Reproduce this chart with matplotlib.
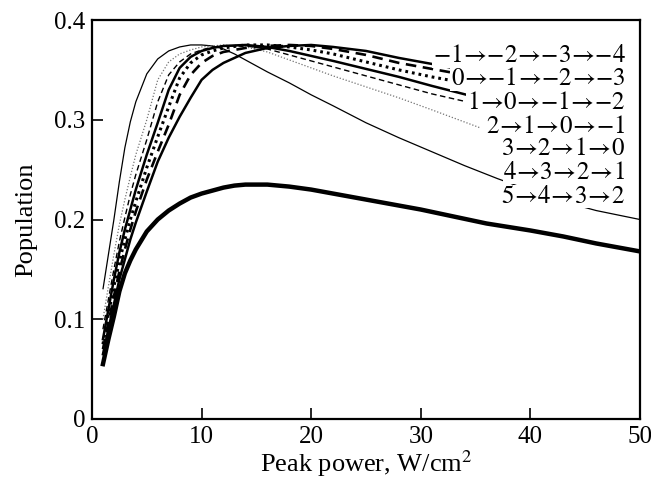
import matplotlib
matplotlib.use("Agg")
import matplotlib.pyplot as plt

plt.rcParams["font.family"] = ["Liberation Serif", "DejaVu Serif"]
plt.rcParams["mathtext.fontset"] = "stix"

# upper family of curves (x grid shared by curves B..G up to their end)
x_up = [1, 1.5, 2, 2.5, 3, 3.5, 4, 5, 6, 7, 8, 9, 10, 11, 12, 14, 16, 18, 20, 22, 25, 28, 31]

# A: thin solid, fastest rise, continues to x = 50
x_a = [1, 1.5, 2, 2.5, 3, 3.5, 4, 5, 6, 7, 8, 9, 10, 11, 12, 13, 14, 16, 18, 20, 22, 25,
       28, 31, 34, 37, 40, 43, 46, 50]
y_a = [0.13, 0.165, 0.2, 0.238, 0.272, 0.298, 0.318, 0.346, 0.361, 0.369, 0.373, 0.375,
       0.375, 0.374, 0.371, 0.366, 0.36, 0.348, 0.337, 0.325, 0.314, 0.297, 0.282, 0.268,
       0.254, 0.241, 0.229, 0.218, 0.209, 0.2]

y_b = [0.1, 0.133, 0.165, 0.195, 0.22, 0.243, 0.265, 0.3, 0.34, 0.358, 0.366, 0.37, 0.373,
       0.374, 0.375, 0.373, 0.368, 0.36, 0.352, 0.344, 0.333, 0.322, 0.31]
y_c = [0.09, 0.12, 0.15, 0.178, 0.202, 0.225, 0.245, 0.28, 0.318, 0.345, 0.358, 0.366, 0.37,
       0.373, 0.374, 0.374, 0.371, 0.365, 0.359, 0.353, 0.344, 0.335, 0.326]
y_d = [0.08, 0.11, 0.14, 0.167, 0.19, 0.21, 0.23, 0.265, 0.297, 0.33, 0.352, 0.363, 0.369,
       0.372, 0.374, 0.375, 0.373, 0.369, 0.364, 0.359, 0.351, 0.343, 0.334]
y_e = [0.075, 0.105, 0.133, 0.158, 0.18, 0.2, 0.218, 0.252, 0.283, 0.313, 0.342, 0.357,
       0.365, 0.369, 0.372, 0.375, 0.375, 0.373, 0.37, 0.366, 0.358, 0.35, 0.343]
y_f = [0.07, 0.097, 0.123, 0.148, 0.17, 0.19, 0.208, 0.24, 0.268, 0.295, 0.325, 0.345,
       0.357, 0.364, 0.368, 0.372, 0.374, 0.375, 0.374, 0.371, 0.365, 0.357, 0.351]
y_g = [0.065, 0.09, 0.115, 0.14, 0.16, 0.18, 0.197, 0.228, 0.258, 0.282, 0.303, 0.322,
       0.34, 0.35, 0.357, 0.367, 0.372, 0.374, 0.375, 0.373, 0.369, 0.362, 0.356]

# last point of each curve, where it meets its label
end_b = (35.4, 0.292)
end_c = (34.2, 0.318)
end_d = (34.2, 0.325)
end_e = (33.0, 0.339)
end_f = (33.0, 0.347)
end_g = (32.9, 0.352)

# lower bundle
x_low = [1, 1.5, 2, 2.5, 3, 3.5, 4, 5, 6, 7, 8, 9, 10, 11, 12, 13, 14, 15, 16, 17, 18, 20,
         22, 25, 28, 30, 33, 36, 40, 43, 46, 50]
y_low = [0.055, 0.08, 0.103, 0.128, 0.146, 0.159, 0.17, 0.188, 0.2, 0.209, 0.216, 0.222,
         0.226, 0.229, 0.232, 0.234, 0.235, 0.235, 0.235, 0.234, 0.233, 0.23, 0.226, 0.22,
         0.214, 0.21, 0.203, 0.196, 0.189, 0.183, 0.176, 0.168]

chains = [[-1, -2, -3, -4], [0, -1, -2, -3], [1, 0, -1, -2], [2, 1, 0, -1],
          [3, 2, 1, 0], [4, 3, 2, 1], [5, 4, 3, 2]]
label_y = [0.364, 0.341, 0.317, 0.293, 0.271, 0.247, 0.223]


def chain_label(states):
    parts = ["{-}%d" % -s if s < 0 else "%d" % s for s in states]
    return "$" + r"\!\rightarrow\!".join(parts) + "$"


fig = plt.figure(figsize=(6.51, 4.86), dpi=100)
ax = fig.add_axes([0.1413, 0.1379, 0.8417, 0.8209])

ax.plot(x_a, y_a, color="black", lw=0.9, solid_capstyle="butt")
ax.plot(x_up + [end_b[0]], y_b + [end_b[1]], color="0.45", lw=0.9, ls=(0, (1, 1.5)))
ax.plot(x_up + [end_c[0]], y_c + [end_c[1]], color="black", lw=1.0, ls=(0, (4, 2.5)))
ax.plot(x_up + [end_d[0]], y_d + [end_d[1]], color="black", lw=1.8)
ax.plot(x_up + [end_e[0]], y_e + [end_e[1]], color="black", lw=2.2, ls=(0, (0.9, 1.3)))
ax.plot(x_up + [end_f[0]], y_f + [end_f[1]], color="black", lw=1.9, ls=(0, (4, 2.5)))
ax.plot(x_up + [end_g[0]], y_g + [end_g[1]], color="black", lw=1.8)
ax.plot(x_low, y_low, color="black", lw=3.2)

for states, yy in zip(chains, label_y):
    ax.text(48.7, yy, chain_label(states), ha="right", va="center", fontsize=18, zorder=5,
            bbox=dict(facecolor="white", edgecolor="none", pad=0.5))

ax.set_xlim(0, 50)
ax.set_ylim(0, 0.4)
ax.set_xticks([0, 10, 20, 30, 40, 50])
ax.set_yticks([0, 0.1, 0.2, 0.3, 0.4])
ax.set_yticklabels(["0", "0.1", "0.2", "0.3", "0.4"])
ax.tick_params(direction="in", length=8, width=1.2, labelsize=18, pad=5)
for s in ax.spines.values():
    s.set_linewidth(1.6)
ax.set_xlabel("Peak power, W/cm$^2$", fontsize=19, labelpad=0)
ax.set_ylabel("Population", fontsize=19, labelpad=12)

fig.savefig("out.png", dpi=100)
